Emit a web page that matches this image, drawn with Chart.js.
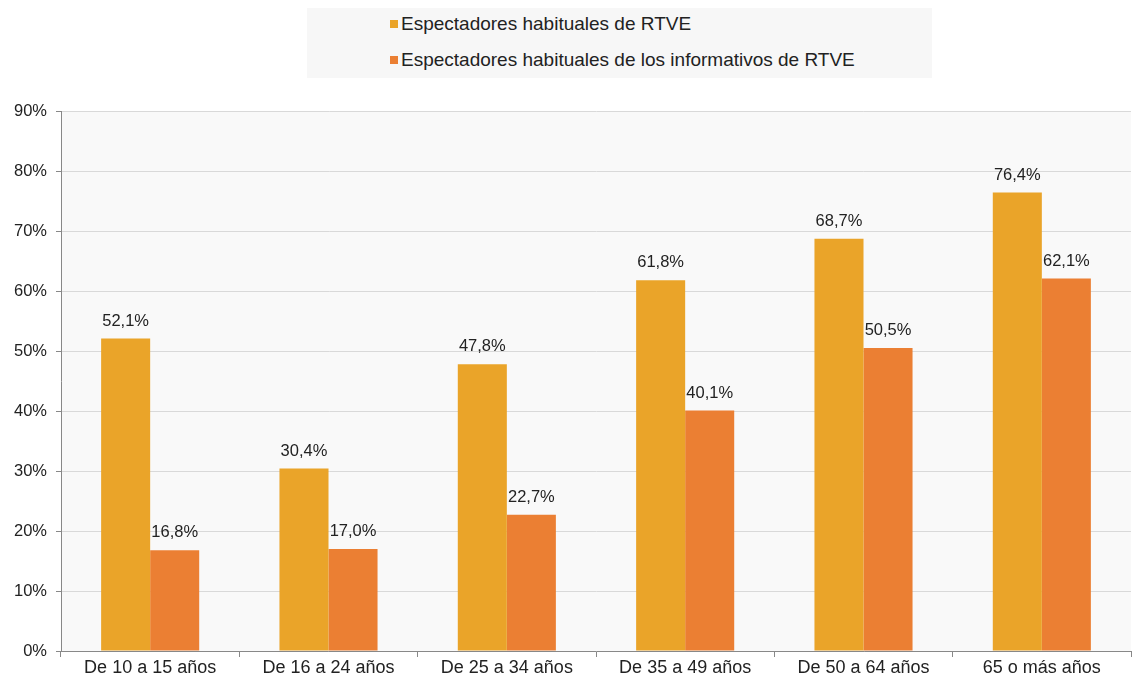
<!DOCTYPE html>
<html>
<head>
<meta charset="utf-8">
<script src="https://cdn.jsdelivr.net/npm/chart.js@4"></script>
<style>
    html, body { margin: 0; padding: 0; background: #ffffff; }
    #wrap { position: relative; width: 1134px; height: 683px; }
    #legend {
        position: absolute; left: 307px; top: 8px; width: 625px; height: 70px;
        background: #f7f7f7; font-family: "Liberation Sans", Arial, sans-serif;
        font-size: 19px; color: #222;
    }
    .item { position: absolute; left: 83px; white-space: nowrap; line-height: 22px; }
    .item span.box { display: inline-block; width: 8px; height: 8px; margin-right: 3px; vertical-align: 2px; }
</style>
</head>
<body>
<div id="wrap">
    <canvas id="myChart" width="1134" height="683"></canvas>
    <div id="legend"></div>
</div>
<script>
"use strict";

const categories = ['De 10 a 15 años', 'De 16 a 24 años', 'De 25 a 34 años', 'De 35 a 49 años', 'De 50 a 64 años', '65 o más años'];
const seriesNames = ['Espectadores habituales de RTVE', 'Espectadores habituales de los informativos de RTVE'];
const habituales = [52.1, 30.4, 47.8, 61.8, 68.7, 76.4];
const informativos = [16.8, 17.0, 22.7, 40.1, 50.5, 62.1];
const colors = ['#eaa429', '#eb7f33'];

const fontFamily = '"Liberation Sans", Arial, sans-serif';

// gray background behind the plot area
const plotBg = {
    id: 'plotBg',
    beforeDraw(chart) {
        const a = chart.chartArea;
        const c = chart.ctx;
        c.save();
        c.fillStyle = '#f9f9f9';
        c.fillRect(a.left, a.top, a.right - a.left, a.bottom - a.top);
        c.restore();
    }
};

// value labels above bars
const valueLabels = {
    id: 'valueLabels',
    afterDatasetsDraw(chart) {
        const c = chart.ctx;
        c.save();
        c.font = '16.5px ' + fontFamily;
        c.fillStyle = '#222';
        c.textAlign = 'center';
        c.textBaseline = 'bottom';
        chart.data.datasets.forEach(function (ds, i) {
            chart.getDatasetMeta(i).data.forEach(function (bar, j) {
                const txt = ds.data[j].toFixed(1).replace('.', ',') + '%';
                c.fillText(txt, bar.x, bar.y - 9);
            });
        });
        c.restore();
    }
};

const ctx = document.getElementById('myChart');
const myChart = new Chart(ctx, {
    type: 'bar',
    data: {
        labels: categories,
        datasets: [{
            label: seriesNames[0],
            data: habituales,
            backgroundColor: colors[0]
        }, {
            label: seriesNames[1],
            data: informativos,
            backgroundColor: colors[1]
        }]
    },
    options: {
        responsive: false,
        animation: false,
        layout: { padding: { top: 111, right: 3, left: 0, bottom: 0 } },
        categoryPercentage: 0.55,
        barPercentage: 1,
        plugins: {
            legend: { display: false },
            tooltip: { enabled: false }
        },
        scales: {
            x: {
                grid: { drawOnChartArea: false, color: '#888', tickLength: 6, offset: true },
                border: { color: '#888' },
                ticks: { color: '#222', font: { family: fontFamily, size: 18 }, padding: 0 },
                afterFit(scale) { scale.height = 32; }
            },
            y: {
                min: 0,
                max: 90,
                ticks: {
                    stepSize: 10,
                    color: '#222',
                    font: { family: fontFamily, size: 16.5 },
                    padding: 9,
                    callback: function (v) { return v + '%'; }
                },
                grid: { color: '#d9d9d9', tickLength: 5, tickColor: '#888' },
                border: { color: '#888' },
                afterFit(scale) { scale.width = 61; }
            }
        }
    },
    plugins: [plotBg, valueLabels]
});

// legend, stacked vertically like the original
const legend = document.getElementById('legend');
seriesNames.forEach(function (name, i) {
    const div = document.createElement('div');
    div.className = 'item';
    div.style.top = (i === 0 ? 5 : 41) + 'px';
    div.innerHTML = '<span class="box" style="background:' + colors[i] + '"></span>' + name;
    legend.appendChild(div);
});
</script>
</body>
</html>
